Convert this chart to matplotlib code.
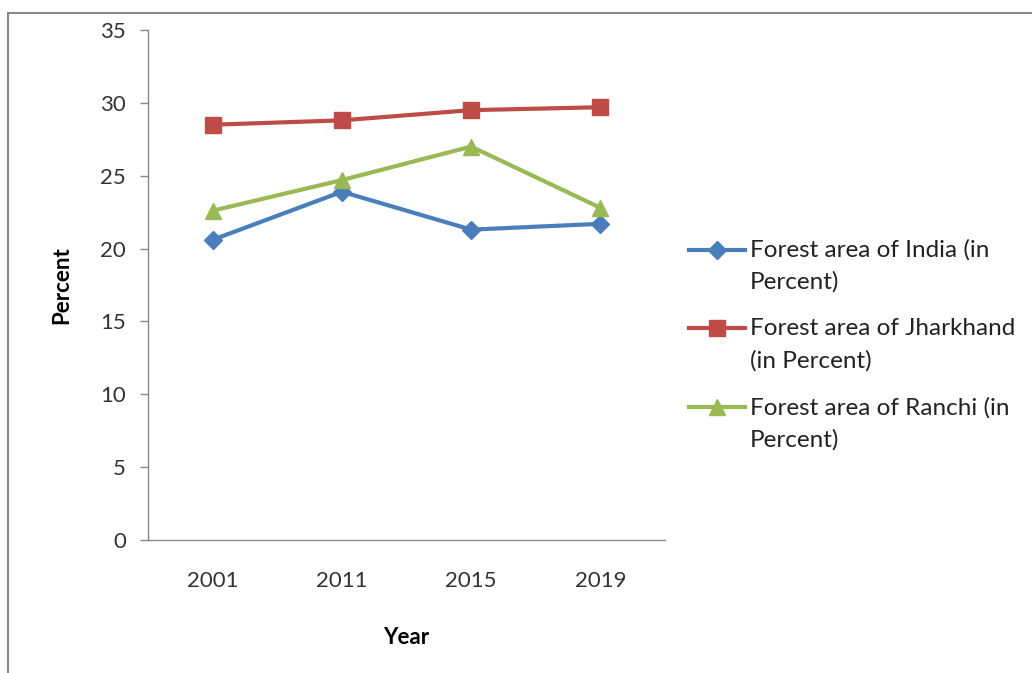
import numpy as np
import matplotlib.pyplot as plt
from matplotlib.lines import Line2D
from matplotlib.legend_handler import HandlerLine2D

plt.rcParams['font.family'] = ['Lato', 'DejaVu Sans']

years = ['2001', '2011', '2015', '2019']
india = [20.6, 23.9, 21.3, 21.7]
jharkhand = [28.5, 28.8, 29.5, 29.7]
ranchi = [22.6, 24.7, 27.0, 22.8]
yticks = [0, 5, 10, 15, 20, 25, 30, 35]


class FirstLineHandler(HandlerLine2D):
    # put the legend key next to the first line of a two-line label
    def create_artists(self, legend, orig_handle, xdescent, ydescent, width, height, fontsize, trans):
        arts = super().create_artists(legend, orig_handle, xdescent, ydescent, width, height, fontsize, trans)
        for a in arts:
            a.set_ydata(np.asarray(a.get_ydata()) + fontsize * 0.68)
        return arts


fig = plt.figure(figsize=(10.32, 6.73), dpi=100)
ax = fig.add_axes([148 / 1032, 1 - 540 / 673, 517 / 1032, 510 / 673])

x = range(len(years))
ax.plot(x, india, color='#4A7EBB', linewidth=3, marker='D', markersize=9,
        label='Forest area of India (in\nPercent)')
ax.plot(x, jharkhand, color='#BE4B48', linewidth=3, marker='s', markersize=12,
        label='Forest area of Jharkhand\n(in Percent)')
ax.plot(x, ranchi, color='#98B954', linewidth=3, marker='^', markersize=12,
        label='Forest area of Ranchi (in\nPercent)')

ax.set_xlim(-0.5, 3.5)
ax.set_ylim(0, 35)
ax.set_yticks(yticks)
ax.set_xticks(list(x))
ax.set_xticklabels(years)
ax.tick_params(axis='both', labelsize=16, colors='#333333')
ax.tick_params(axis='x', length=0, pad=22)
ax.tick_params(axis='y', length=6, width=1, color='#888888', pad=10)
for side in ['top', 'right']:
    ax.spines[side].set_visible(False)
for side in ['left', 'bottom']:
    ax.spines[side].set_color('#888888')
    ax.spines[side].set_linewidth(1)

ax.set_xlabel('Year', fontsize=16, fontweight='bold', labelpad=26)
ax.set_ylabel('Percent', fontsize=16, fontweight='bold', labelpad=20)

leg = fig.legend(loc='center left', bbox_to_anchor=(689 / 1032, 1 - 345 / 673),
                 frameon=False, fontsize=17.5, handlelength=2.3, handletextpad=0.2,
                 labelspacing=1.05, borderpad=0, borderaxespad=0,
                 handler_map={Line2D: FirstLineHandler()})
for t in leg.get_texts():
    t.set_linespacing(1.6)
    t.set_color('#222222')

# outer frame (only top and left visible)
fig.add_artist(Line2D([8 / 1032, 8 / 1032], [0, 1 - 13 / 673], transform=fig.transFigure,
                      color='#888888', linewidth=1.5))
fig.add_artist(Line2D([8 / 1032, 1], [1 - 13 / 673, 1 - 13 / 673], transform=fig.transFigure,
                      color='#888888', linewidth=1.5))

fig.savefig('out.png', dpi=100)
